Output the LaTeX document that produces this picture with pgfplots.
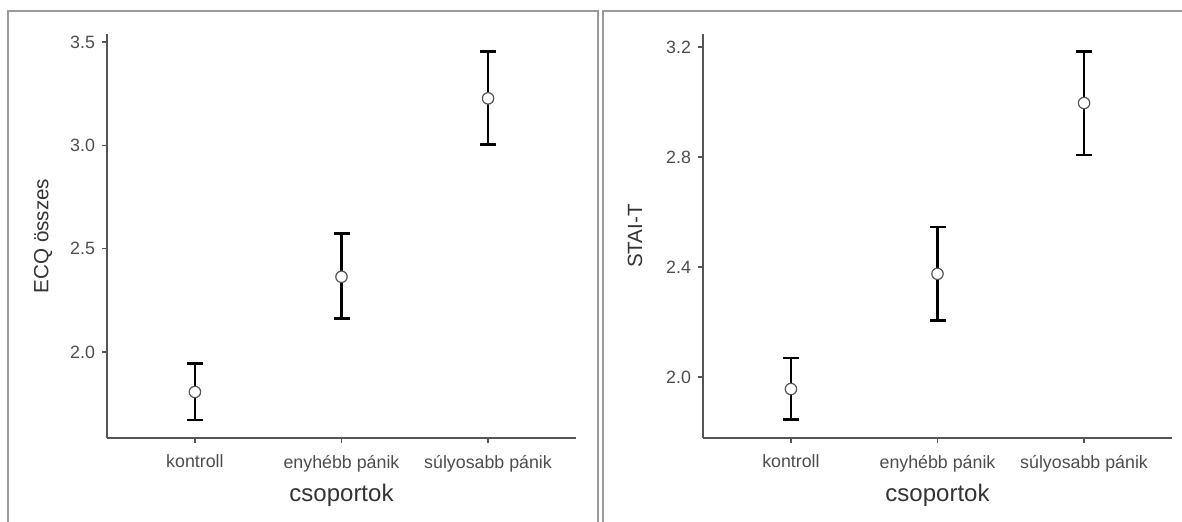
\documentclass[border=0pt]{standalone}
\usepackage{fontspec}
\setmainfont{Liberation Sans}
\usepackage{pgfplots}
\pgfplotsset{compat=1.18}
\definecolor{axgray}{HTML}{555555}
\definecolor{txgray}{HTML}{4D4D4D}
\definecolor{ttgray}{HTML}{333333}
\definecolor{frgray}{HTML}{9A9A9A}
\pgfplotsset{
  panel/.style={
    scale only axis, width=234.5pt, height=202pt, anchor=south west,
    axis lines=left, axis line style={-, color=axgray, line width=0.75pt},
    xmin=0.4, xmax=3.6,
    xtick={1,2,3}, xticklabels={kontroll, enyhébb pánik, súlyosabb pánik},
    tick align=outside, major tick length=2.5pt,
    tick style={color=axgray, line width=0.75pt},
    ticklabel style={font=\fontsize{8.9pt}{10pt}\selectfont, text=txgray},
    xticklabel style={yshift=-2.5pt},
    /pgf/number format/assume math mode=true,
    /pgf/number format/fixed, /pgf/number format/fixed zerofill, /pgf/number format/precision=1,
    xlabel={csoportok},
    xlabel style={at={(axis description cs:0.5,-0.142)}, anchor=center,
      font=\fontsize{12pt}{13pt}\selectfont, text=ttgray},
    ylabel style={font=\fontsize{10.3pt}{12pt}\selectfont, text=ttgray},
    clip=false,
  },
  ebar/.style={only marks, mark=none,
    error bars/.cd, y dir=both, y explicit,
    error bar style={black, line width=1.4pt},
    error mark options={black, line width=1.4pt, rotate=90, mark size=4pt}},
  pt/.style={only marks, mark=*, mark size=2.85pt,
    mark options={fill=white, draw=axgray, line width=0.6pt}},
}
\begin{document}
\begin{tikzpicture}
\useasboundingbox (0,0) rectangle (591pt,261pt);
\draw[frgray, line width=0.75pt] (4pt,-2pt) -- (4pt,255.5pt) -- (299pt,255.5pt) -- (299pt,-2pt);
\draw[frgray, line width=0.75pt] (301.5pt,-2pt) -- (301.5pt,255.5pt) -- (593pt,255.5pt);
\begin{axis}[panel, at={(53.5pt,42pt)},
  ymin=1.583, ymax=3.54, ytick={2.0,2.5,3.0,3.5},
  ylabel={ECQ összes},
  ylabel style={at={(axis description cs:-0.136,0.5)}, anchor=center}]
\addplot+[ebar] coordinates {
  (1,1.806) += (0,0.136) -= (0,0.136)
  (2,2.364) += (0,0.209) -= (0,0.204)
  (3,3.228) += (0,0.228) -= (0,0.223)};
\addplot+[pt] coordinates {(1,1.806) (2,2.364) (3,3.228)};
\end{axis}
\begin{axis}[panel, at={(351.5pt,42pt)},
  ymin=1.778, ymax=3.247, ytick={2.0,2.4,2.8,3.2},
  ylabel={STAI-T},
  ylabel style={at={(axis description cs:-0.145,0.5)}, anchor=center}]
\addplot+[ebar] coordinates {
  (1,1.956) += (0,0.113) -= (0,0.112)
  (2,2.375) += (0,0.170) -= (0,0.171)
  (3,2.996) += (0,0.186) -= (0,0.189)};
\addplot+[pt] coordinates {(1,1.956) (2,2.375) (3,2.996)};
\end{axis}
\end{tikzpicture}
\end{document}
